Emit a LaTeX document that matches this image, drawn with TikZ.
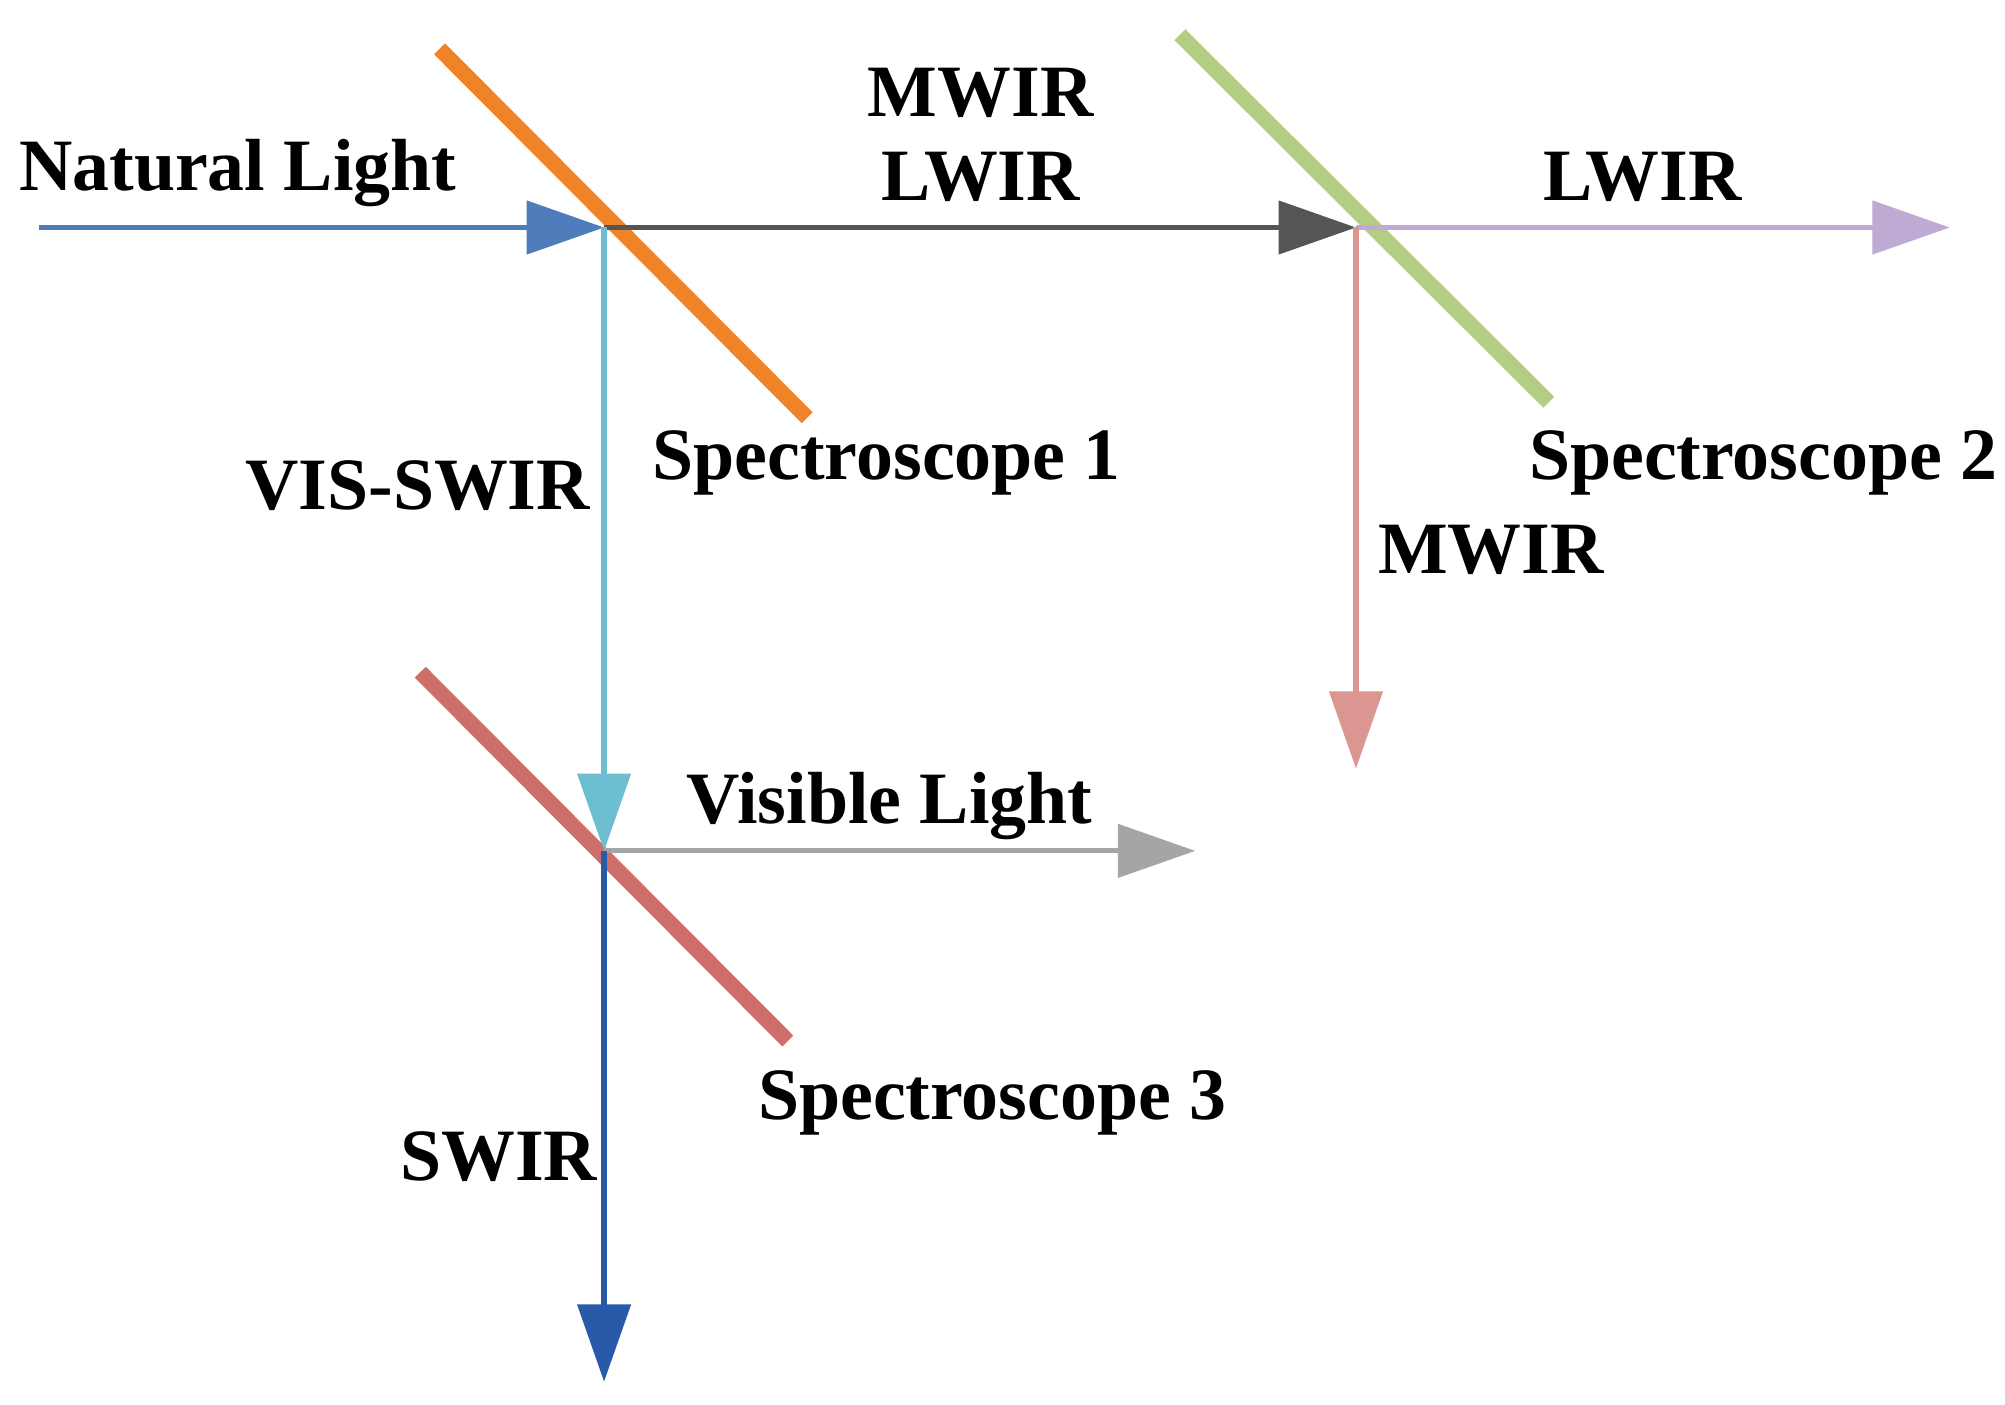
\documentclass[tikz,border=0pt]{standalone}
\usepackage{fontspec}
\setmainfont{Liberation Serif}
\usetikzlibrary{arrows.meta}
\definecolor{natblue}{RGB}{79,124,186}
\definecolor{darkgr}{RGB}{85,85,85}
\definecolor{lwirc}{RGB}{190,170,210}
\definecolor{mwirc}{RGB}{220,150,145}
\definecolor{visc}{RGB}{110,190,210}
\definecolor{grayc}{RGB}{165,165,165}
\definecolor{swirc}{RGB}{40,90,170}
\definecolor{mirA}{RGB}{240,130,40}
\definecolor{mirB}{RGB}{180,205,130}
\definecolor{mirC}{RGB}{205,110,105}

\tikzset{
  beam/.style={line width=1.5pt, -{Triangle[length=22pt,width=15pt]}},
  mirror/.style={line width=4.4pt},
  lbl/.style={font=\fontsize{21}{24}\selectfont\bfseries, inner sep=0pt}
}

\begin{document}
\begin{tikzpicture}[x=0.01285cm, y=-0.01285cm]
  \useasboundingbox (0,0) rectangle (1560,1093);
  \coordinate (src) at (30,177);
  \coordinate (m1) at (470,177);
  \coordinate (m2) at (1055,177);
  \coordinate (m3) at (470,662);
  \coordinate (lwout) at (1517,177);
  \coordinate (mwout) at (1055,598);
  \coordinate (visout) at (930,662);
  \coordinate (swout) at (470,1075);

  % mirrors
  \draw[mirror, mirA] (342,38) -- (628,325);
  \draw[mirror, mirB] (918,27) -- (1205,313);
  \draw[mirror, mirC] (327,523) -- (613,810);

  % beams
  \draw[beam, natblue] (src) -- (m1);
  \draw[beam, darkgr] (m1) -- (m2);
  \draw[beam, lwirc] (m2) -- (lwout);
  \draw[beam, mwirc] (m2) -- (mwout);
  \draw[beam, visc] (m1) -- (m3);
  \draw[beam, grayc] (m3) -- (visout);
  \draw[beam, swirc] (m3) -- (swout);

  % labels
  \node[lbl] (nat) at (185,135) {Natural Light};
  \node[lbl] (mw1) at (763,72) {MWIR};
  \node[lbl] (lw1) at (763,138) {LWIR};
  \node[lbl] (lw2) at (1278,138) {LWIR};
  \node[lbl] (sp1) at (690,360) {Spectroscope 1};
  \node[lbl] (vsw) at (325,378) {VIS-SWIR};
  \node[lbl] (sp2) at (1372,360) {Spectroscope 2};
  \node[lbl] (mw2) at (1160,428) {MWIR};
  \node[lbl] (vis) at (692,627) {Visible Light};
  \node[lbl] (sp3) at (772,858) {Spectroscope 3};
  \node[lbl] (sw) at (388,900) {SWIR};
\end{tikzpicture}
\end{document}
